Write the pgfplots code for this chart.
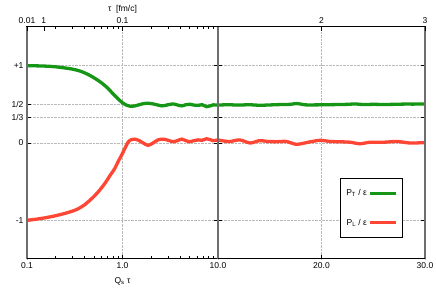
\documentclass[border=0pt]{standalone}
\usepackage{fontspec}
\setmainfont{Liberation Sans}
\usepackage{pgfplots}
\pgfplotsset{compat=1.18}
\definecolor{ptgreen}{RGB}{22,150,22}
\definecolor{plred}{RGB}{255,70,52}
\definecolor{frame}{RGB}{110,110,110}
\newcommand{\fs}{\fontsize{8.5}{10}\selectfont}
\pgfplotsset{
 base/.style={scale only axis, height=232pt, ymin=-1.5, ymax=1.5, clip=false,
   tick label style={font=\fs}, label style={font=\fs},
   /pgf/number format/assume math mode=true,
   tick align=inside, major tick length=4pt, minor tick length=2.5pt,
   every tick/.style={black, line width=0.5pt},
   axis line style={black, line width=1pt},
   ytick={-1,0,0.333333,0.5,1},
   major grid style={gray!55, densely dotted, line width=0.45pt},
 },
 curve/.style={line width=3.3pt, smooth, tension=0.5},
}
\begin{document}
\begin{tikzpicture}
\useasboundingbox (0,0) rectangle (436pt,305pt);
% left panel
\begin{axis}[base, at={(27pt,46pt)}, anchor=south west, width=191pt,
  xmode=log, xmin=0.1, xmax=10,
  xtick={0.1,1,10}, xticklabels={0.1,1.0,},
  minor xtick={0.2,0.3,0.4,0.5,0.6,0.7,0.8,0.9,2,3,4,5,6,7,8,9},
  xtick pos=left, ytick pos=both, yticklabel pos=left,
  yticklabels={-1,0,1/3,1/2,+1},
  grid=major,
  xlabel={Q\textsubscript{s} τ}, xlabel style={yshift=-2pt}]
\addplot[curve, plred] coordinates {
(0.1,-1.0) (0.125,-0.985) (0.154,-0.968) (0.2,-0.94) (0.25,-0.91) (0.3,-0.88)
(0.344,-0.85) (0.4,-0.80) (0.475,-0.72) (0.55,-0.64) (0.656,-0.52) (0.75,-0.41)
(0.83,-0.33) (0.9,-0.24) (0.98,-0.156) (1.05,-0.08) (1.15,0.015) (1.25,0.045)
(1.35,0.05) (1.5,0.03) (1.65,0.0) (1.85,-0.03) (2.09,0.0) (2.35,0.04) (2.66,0.05)
(3.0,0.035) (3.38,0.017) (3.75,0.03) (4.17,0.05) (4.6,0.03) (5.09,0.017)
(5.6,0.03) (6.17,0.04) (6.8,0.035) (7.6,0.055) (8.2,0.045) (8.87,0.03) (10,0.04)};
\addplot[curve, ptgreen] coordinates {
(0.1,1.0) (0.15,0.995) (0.2,0.985) (0.25,0.97) (0.3,0.955) (0.36,0.93) (0.43,0.89)
(0.5,0.845) (0.6,0.78) (0.7,0.71) (0.79,0.64) (0.9,0.57) (1.0,0.52) (1.1,0.49)
(1.2,0.475) (1.35,0.48) (1.6,0.505) (1.8,0.515) (2.1,0.505) (2.6,0.48) (3.0,0.495)
(3.4,0.505) (3.8,0.49) (4.2,0.48) (4.6,0.495) (5.1,0.5) (5.6,0.49) (6.2,0.487)
(6.8,0.495) (7.6,0.47) (8.3,0.48) (8.9,0.493) (10,0.49)};
\draw[frame, line width=1.6pt] (rel axis cs:0,0) -- (rel axis cs:0,1);
\draw[black, line width=1pt] (rel axis cs:0,0) -- (rel axis cs:1,0);
\end{axis}
% left panel top axis
\begin{axis}[base, at={(27pt,46pt)}, anchor=south west, width=191pt,
  xmode=log, xmin=0.1, xmax=10,
  axis x line*=top, axis y line=none, tick align=inside,
  xtick={0.1,0.15,1}, xticklabels={0.01,1,0.1},
  minor xtick={0.2,0.3,0.4,0.5,0.6,0.7,0.8,0.9,2,3,4,5,6,7,8,9},
  xlabel={τ\ \ [fm/c]}, xlabel style={yshift=-3pt}]
\end{axis}
% right panel
\begin{axis}[base, at={(218pt,46pt)}, anchor=south west, width=207pt,
  xmin=10, xmax=30,
  xtick={10,20,30}, xticklabels={10.0,20.0,30.0},
  xtick pos=left, ytick pos=both, yticklabels={},
  grid=major,
  legend style={at={(rel axis cs:0.589,0.09)}, anchor=south west, draw=black,
    line width=0.7pt, font=\fs, row sep=18pt, inner xsep=4pt, inner ysep=9pt,
    /tikz/every even column/.append style={column sep=3pt}},
  legend cell align=right, legend plot pos=right,
  legend image code/.code={\draw[#1, line width=3pt] (0pt,0pt) -- (26pt,0pt);}]
\addplot[curve, ptgreen] coordinates {
(10,0.49) (11,0.495) (12,0.49) (13,0.495) (14,0.488) (15,0.492) (16,0.497)
(17,0.5) (17.6,0.51) (18.5,0.493) (19.5,0.493) (20.5,0.495) (21.5,0.497) (22.5,0.5)
(23.3,0.505) (24,0.497) (25,0.5) (26,0.498) (27,0.5) (28,0.503) (29,0.503) (30,0.505)};
\addlegendentry{P\textsubscript{T} / ε}
\addplot[curve, plred] coordinates {
(10,0.04) (10.6,0.025) (11.2,0.02) (12.1,0.04) (13.1,0.0) (14,0.03) (14.8,0.02)
(15.7,0.017) (16.6,0.02) (17.6,-0.017) (18.9,0.015) (19.9,0.035) (20.8,0.02)
(22,0.015) (22.8,0.01) (23.7,-0.01) (24.7,0.01) (26,0.01) (27.3,0.02) (28.5,0.0)
(29.8,0.004) (30,0.005)};
\addlegendentry{P\textsubscript{L} / ε}
\draw[frame, line width=1.6pt] (rel axis cs:0,0) -- (rel axis cs:0,1);
\draw[frame, line width=1.6pt] (rel axis cs:1,0) -- (rel axis cs:1,1);
\draw[black, line width=1pt] (rel axis cs:0,0) -- (rel axis cs:1,0);
\end{axis}
% right panel top axis
\begin{axis}[base, at={(218pt,46pt)}, anchor=south west, width=207pt,
  xmin=10, xmax=30,
  axis x line*=top, axis y line=none, tick align=inside,
  xtick={20,30}, xticklabels={2,3}]
\end{axis}
\end{tikzpicture}
\end{document}
